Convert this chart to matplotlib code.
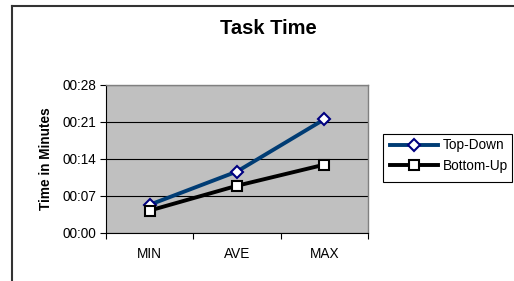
import matplotlib.pyplot as plt
from matplotlib.ticker import FuncFormatter
from matplotlib.lines import Line2D
from matplotlib.patches import Rectangle

categories = ["MIN", "AVE", "MAX"]
top_down = [5.3, 11.6, 21.5]
bottom_up = [4.2, 8.9, 12.9]
yticks = [0, 7, 14, 21, 28]

plt.rcParams['font.family'] = ['Liberation Sans', 'DejaVu Sans']

fig = plt.figure(figsize=(5.14, 2.81), dpi=100)
ax = fig.add_axes([106/514, 1-232.7/281, 262/514, (232.7-85)/281])
ax.set_facecolor("#C0C0C0")

x = list(range(len(categories)))
ax.plot(x, top_down, color="#003C74", lw=2.8, marker="D", ms=6.5,
        mfc="white", mec="#000080", mew=1.5, label="Top-Down", zorder=3)
ax.plot(x, bottom_up, color="black", lw=2.8, marker="s", ms=7,
        mfc="white", mec="black", mew=1.5, label="Bottom-Up", zorder=3)

ax.set_xlim(-0.5, 2.5)
ax.set_ylim(0, 28)
ax.set_yticks(yticks)
ax.yaxis.set_major_formatter(FuncFormatter(lambda v, p: "00:%02d" % v))
ax.set_xticks(x)
ax.set_xticklabels(categories)
ax.set_xticks([-0.5, 0.5, 1.5, 2.5], minor=True)
ax.tick_params(axis="x", which="major", length=0, pad=10, labelsize=9.8)
ax.tick_params(axis="x", which="minor", length=4, direction="out", width=0.8)
ax.tick_params(axis="y", length=4, direction="out", width=0.8, labelsize=9.8, pad=3)
ax.grid(axis="y", color="black", lw=0.8)
ax.set_axisbelow(True)
for s in ["top", "right"]:
    ax.spines[s].set_color("#808080")
    ax.spines[s].set_linewidth(1.0)
for s in ["left", "bottom"]:
    ax.spines[s].set_color("black")
    ax.spines[s].set_linewidth(0.8)

ax.set_ylabel("Time in Minutes", fontsize=9.8, fontweight="bold", labelpad=7)
fig.text(268/514, 1-29/281, "Task Time", ha="center", va="center",
         fontsize=14.5, fontweight="bold")

# legend box drawn separately so the padding can be uneven
fig.add_artist(Rectangle((383/514, 1-182/281), 129/514, 48/281, fill=False,
                         edgecolor="black", lw=0.8, transform=fig.transFigure))
leg = fig.legend(loc="upper left", bbox_to_anchor=(390/514, 1-138.5/281),
                 fontsize=9.8, frameon=False, handlelength=3.5,
                 handletextpad=0.35, borderpad=0, labelspacing=0.45,
                 borderaxespad=0)

# outer chart border (cut off at right and bottom)
fig.add_artist(Line2D([12/514, 12/514], [0, 1-6/281], color="#333333", lw=1.5,
                      transform=fig.transFigure))
fig.add_artist(Line2D([12/514, 1], [1-6/281, 1-6/281], color="#333333", lw=1.5,
                      transform=fig.transFigure))

fig.savefig("out.png", dpi=100)
